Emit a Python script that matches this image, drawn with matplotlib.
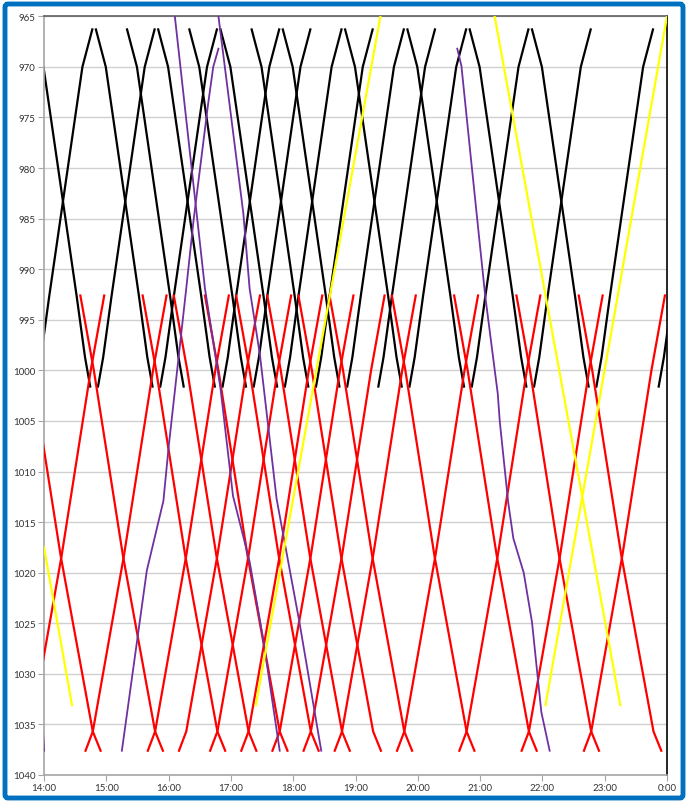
import matplotlib
matplotlib.use("Agg")
import matplotlib.pyplot as plt
from matplotlib.patches import FancyBboxPatch

# ---------------- data ----------------
# black service: station positions and running minutes from departure
black_pos_down = [966.3, 970.0, 992.7, 998.7, 1001.6]
black_min_down = [0, 9.5, 41.5, 49.5, 54.5]
black_pos_up = [1001.6, 998.7, 992.7, 970.0, 966.3]
black_min_up = [0, 5, 13, 45, 54.5]
black_down_dep = ["13:50", "14:50", "15:20", "15:50", "16:20", "16:50", "17:20",
                  "17:50", "18:50", "19:50", "20:50", "21:50"]
black_up_dep = ["13:52", "14:52", "15:52", "16:52", "17:22", "17:52", "18:22",
                "18:52", "19:22", "19:52", "20:52", "21:52", "22:52", "23:52"]

# red service
red_pos_down = [992.6, 1000.0, 1018.3, 1035.7, 1037.6]
red_min_down = [0, 13, 41, 72, 79.5]
red_pos_up = [1037.6, 1035.7, 1018.3, 1000.0, 992.6]
red_min_up = [0, 7, 37, 65, 78]
red_down_dep = ["13:35", "14:35", "15:35", "16:05", "16:35", "17:05", "17:35",
                "18:05", "18:35", "19:35", "20:35", "21:35", "22:35"]
red_up_dep = ["13:40", "14:40", "15:40", "16:10", "16:40", "17:10", "17:40",
              "18:10", "18:40", "19:40", "20:40", "21:40", "22:40"]

# purple trains (time, position)
purple_a_time = ["16:06", "16:35", "16:50", "17:02", "17:18", "17:31", "17:47"]
purple_a_pos = [965.0, 991.9, 1001.8, 1012.4, 1018.9, 1026.5, 1037.6]
purple_b_time = ["16:48", "17:12", "17:18", "17:28", "17:44", "18:06", "18:27"]
purple_b_pos = [965.0, 984.5, 991.9, 998.5, 1012.7, 1024.9, 1037.6]
purple_c_time = ["15:15", "15:39", "15:55", "16:00", "16:17", "16:24", "16:38", "16:43", "16:48"]
purple_c_pos = [1037.6, 1019.8, 1012.9, 1007.6, 991.9, 985.2, 973.7, 970.0, 968.2]
purple_d_time = ["20:38", "20:42", "20:50", "21:00", "21:05", "21:17", "21:19",
                 "21:27", "21:32", "21:42", "21:50", "21:59", "22:07"]
purple_d_pos = [968.2, 969.9, 977.9, 987.8, 992.7, 1002.3, 1005.1,
                1013.0, 1016.6, 1020.0, 1024.9, 1033.8, 1037.6]
purple_e_time = ["13:59", "14:00"]
purple_e_pos = [1035.6, 1037.6]

# yellow trains
yellow_a_time = ["14:00", "14:27"]
yellow_a_pos = [1017.5, 1033.1]
yellow_b_time = ["17:24", "19:24"]
yellow_b_pos = [1033.1, 965.0]
yellow_c_time = ["21:14", "23:15"]
yellow_c_pos = [965.0, 1033.1]
yellow_d_time = ["22:03", "24:00"]
yellow_d_pos = [1033.1, 965.0]

hour_labels = ["14:00", "15:00", "16:00", "17:00", "18:00", "19:00",
               "20:00", "21:00", "22:00", "23:00", "0:00"]
y_ticks = list(range(965, 1041, 5))


def hm(s):
    h, m = s.split(":")
    return int(h) + int(m) / 60.0


# ---------------- figure ----------------
plt.rcParams['font.family'] = ['Lato', 'DejaVu Sans']
fig = plt.figure(figsize=(6.88, 8.04), dpi=100)
fig.patch.set_facecolor("white")
frame = FancyBboxPatch((5 / 688, 5 / 804), 678 / 688, 794 / 804,
                       boxstyle="round,pad=0,rounding_size=0.004",
                       transform=fig.transFigure, facecolor="none",
                       edgecolor="#0070C0", linewidth=3.5, zorder=0)
fig.patches.append(frame)

ax = fig.add_axes([44 / 688, 1 - 776 / 804, 623 / 688, (776 - 17.3) / 804])

LW = 1.6
for dep in black_down_dep:
    t0 = hm(dep)
    ax.plot([t0 + m / 60 for m in black_min_down], black_pos_down, color="black", lw=LW,
            solid_joinstyle="round", zorder=2)
for dep in black_up_dep:
    t0 = hm(dep)
    ax.plot([t0 + m / 60 for m in black_min_up], black_pos_up, color="black", lw=LW,
            solid_joinstyle="round", zorder=2)
for dep in red_down_dep:
    t0 = hm(dep)
    ax.plot([t0 + m / 60 for m in red_min_down], red_pos_down, color="#FF0000", lw=LW,
            solid_joinstyle="round", zorder=3)
for dep in red_up_dep:
    t0 = hm(dep)
    ax.plot([t0 + m / 60 for m in red_min_up], red_pos_up, color="#FF0000", lw=LW,
            solid_joinstyle="round", zorder=3)

for tt, pp in [(purple_a_time, purple_a_pos), (purple_b_time, purple_b_pos),
               (purple_c_time, purple_c_pos), (purple_d_time, purple_d_pos),
               (purple_e_time, purple_e_pos)]:
    ax.plot([hm(t) for t in tt], pp, color="#7030A0", lw=1.3, zorder=4)
for tt, pp in [(yellow_a_time, yellow_a_pos), (yellow_b_time, yellow_b_pos),
               (yellow_c_time, yellow_c_pos), (yellow_d_time, yellow_d_pos)]:
    ax.plot([hm(t) for t in tt], pp, color="#FFFF00", lw=LW, zorder=5)

ax.set_xlim(14, 24)
ax.set_ylim(1040, 965)
ax.set_xticks(range(14, 25))
ax.set_xticklabels(hour_labels)
ax.set_yticks(y_ticks)
ax.set_yticklabels([str(v) for v in y_ticks])
ax.yaxis.grid(True, color="#D0D0D0", lw=1.0, zorder=0)
ax.set_axisbelow(True)
ax.tick_params(axis="both", labelsize=7, colors="#333333", length=4, width=0.8,
               direction="out", pad=2)
ax.tick_params(axis="both", color="#A6A6A6")
for side in ["left", "bottom"]:
    ax.spines[side].set_color("#A6A6A6")
    ax.spines[side].set_linewidth(1.2)
ax.spines["top"].set_color("#606060")
ax.spines["top"].set_linewidth(1.2)
ax.spines["right"].set_color("black")
ax.spines["right"].set_linewidth(1.2)

fig.savefig("out.png", dpi=100, facecolor="white")
